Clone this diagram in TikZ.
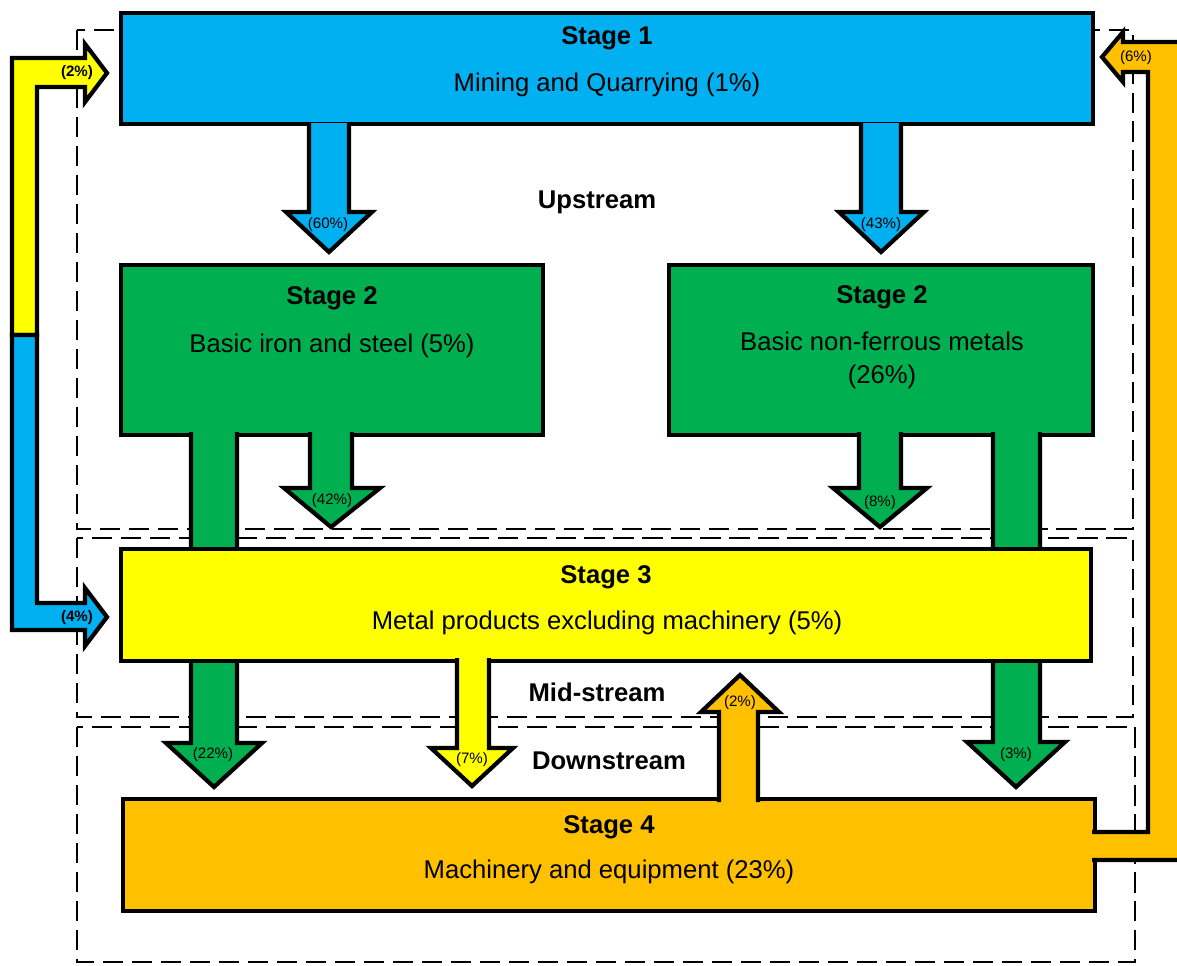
\documentclass[tikz,border=0pt]{standalone}
\usepackage{fontspec}
\setmainfont{Liberation Sans}
\definecolor{upblue}{HTML}{00B0F0}
\definecolor{stgreen}{HTML}{00B050}
\definecolor{midyellow}{HTML}{FFFF00}
\definecolor{downorange}{HTML}{FFC000}
\begin{document}
\begin{tikzpicture}[
    x=0.02cm, y=-0.02cm,
    stagebox/.style={rectangle,draw=black,line width=2.6pt,inner sep=0pt},
    flow/.style={draw=black,line width=2.4pt,line join=miter},
    zone/.style={draw=black,line width=1.6pt,dash pattern=on 11.5pt off 5pt},
    stagetitle/.style={font=\fontsize{14.6}{17}\selectfont\bfseries},
    stagedesc/.style={font=\fontsize{14.6}{18.7}\selectfont,align=center},
    pct/.style={font=\fontsize{8.6}{10}\selectfont,inner sep=0pt},
    pctb/.style={font=\fontsize{8.6}{10}\selectfont\bfseries,inner sep=0pt}
]
\useasboundingbox (0,0) rectangle (1177,965);

% zones
\draw[zone] (77,30) rectangle (1133,529);
\draw[zone] (77,538) rectangle (1133,717);
\draw[zone] (77,727) rectangle (1135,962);

% feedback on the left
\draw[flow,fill=midyellow] (12,335) -- (12,58) -- (85,58) -- (85,44) -- (107,73) -- (85,102) -- (85,87) -- (37,87) -- (37,335) -- cycle;
\draw[flow,fill=upblue] (12,335) -- (12,630) -- (85,630) -- (85,646) -- (107,617) -- (85,588) -- (85,603) -- (37,603) -- (37,335) -- cycle;

\node[stagebox,fill=upblue,minimum width=19.44cm,minimum height=2.22cm] (s1) at (607,68.5) {};
\node[stagebox,fill=stgreen,minimum width=8.44cm,minimum height=3.4cm] (s2a) at (332,350) {};
\node[stagebox,fill=stgreen,minimum width=8.48cm,minimum height=3.4cm] (s2b) at (881,350) {};

% stage 1 -> stage 2
\draw[flow,fill=upblue] (309,123) -- (309,212) -- (286,212) -- (329,252) -- (372,212) -- (349,212) -- (349,123);
\draw[flow,fill=upblue] (861,123) -- (861,212) -- (839,212) -- (881,252) -- (924,212) -- (901,212) -- (901,123);

% stage 2 -> stage 3 / 4
\draw[flow,fill=stgreen] (310,432) -- (310,488) -- (284,488) -- (331,527) -- (380,488) -- (352,488) -- (352,432);
\draw[flow,fill=stgreen] (859,432) -- (859,488) -- (833,488) -- (880,527) -- (927,488) -- (901,488) -- (901,432);
\draw[flow,fill=stgreen] (191,432) -- (191,743) -- (166,743) -- (214,787) -- (262,743) -- (237,743) -- (237,432);
\draw[flow,fill=stgreen] (993,432) -- (993,742) -- (967,742) -- (1016,787) -- (1065,742) -- (1040,742) -- (1040,432);

\node[stagebox,fill=midyellow,minimum width=19.4cm,minimum height=2.24cm] (s3) at (606,605) {};

% stage 3 -> stage 4
\draw[flow,fill=midyellow] (457,658) -- (457,748) -- (431,748) -- (472,786) -- (513,748) -- (489,748) -- (489,658);

\node[stagebox,fill=downorange,minimum width=19.44cm,minimum height=2.24cm] (s4) at (609,855) {};

% stage 4 -> stage 3 and stage 1
\draw[flow,fill=downorange] (719,802) -- (719,712) -- (701,712) -- (740,675) -- (779,712) -- (758,712) -- (758,802);
\draw[flow,fill=downorange] (1092,832) -- (1148,832) -- (1148,72) -- (1123,72) -- (1123,82) -- (1102,57) -- (1123,32) -- (1123,42) -- (1190,42) -- (1190,860) -- (1092,860);

% texts
\node[stagetitle] (s1t) at (607,38) {Stage 1};
\node[stagedesc] (s1d) at (607,85) {Mining and Quarrying (1\%)};
\node[stagetitle] (s2at) at (332,298) {Stage 2};
\node[stagedesc] (s2ad) at (332,346) {Basic iron and steel (5\%)};
\node[stagetitle] (s2bt) at (882,297) {Stage 2};
\node[stagedesc] (s2bd) at (882,360.5) {Basic non-ferrous metals\\(26\%)};
\node[stagetitle] (s3t) at (606,577) {Stage 3};
\node[stagedesc] (s3d) at (607,623) {Metal products excluding machinery (5\%)};
\node[stagetitle] (s4t) at (609,827) {Stage 4};
\node[stagedesc] (s4d) at (609,872) {Machinery and equipment (23\%)};

\node[stagetitle] (up) at (597,202) {Upstream};
\node[stagetitle] (mid) at (597,692) {Mid-stream};
\node[stagetitle] (down) at (609,761) {Downstream};

\node[pct] (p60) at (328,225) {(60\%)};
\node[pct] (p43) at (881,225) {(43\%)};
\node[pct] (p42) at (332,501) {(42\%)};
\node[pct] (p8) at (880,503) {(8\%)};
\node[pct] (p22) at (213,755) {(22\%)};
\node[pct] (p7) at (472,760) {(7\%)};
\node[pct] (p3) at (1016,755) {(3\%)};
\node[pct] (p2b) at (740,703) {(2\%)};
\node[pct] (p6) at (1136,58) {(6\%)};
\node[pctb] (p2a) at (77,73) {(2\%)};
\node[pctb] (p4) at (77,618) {(4\%)};

\end{tikzpicture}
\end{document}
